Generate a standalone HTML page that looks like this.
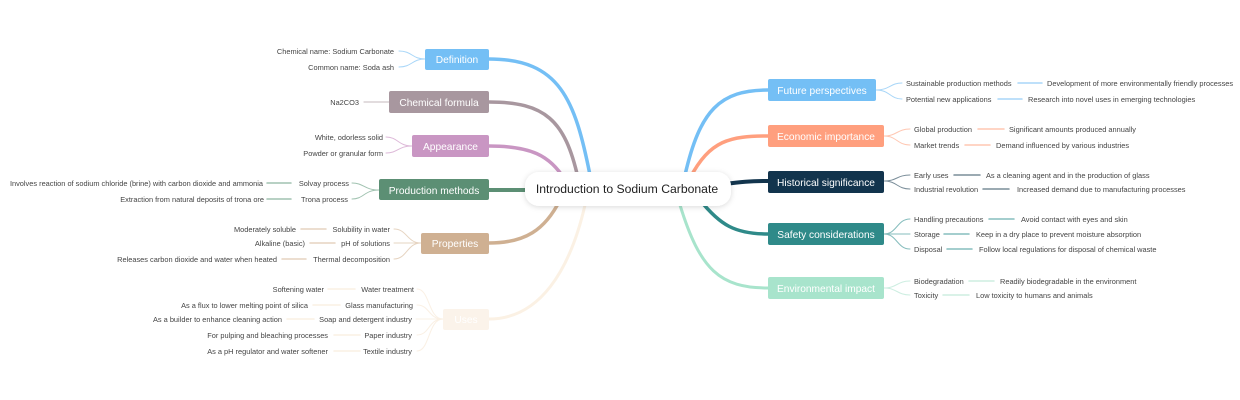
<!DOCTYPE html>
<html><head><meta charset="utf-8"><style>
html,body{margin:0;padding:0;background:#fff;}
svg{display:block;font-family:"Liberation Sans",sans-serif;}
.l{font-size:7.4px;fill:#444;}
.n{font-size:10.2px;fill:#fff;text-anchor:middle;}
</style></head><body>
<svg width="1240" height="400" viewBox="0 0 1240 400" xmlns="http://www.w3.org/2000/svg">
<defs><filter id="sh" x="-20%" y="-50%" width="140%" height="200%"><feDropShadow dx="0" dy="1" stdDeviation="3" flood-color="#000" flood-opacity="0.15"/></filter></defs>
<g fill="none" stroke-linecap="round">
<path d="M590 175 C575 100 560 59 489 59" stroke="#74bff5" stroke-width="3.5"/>
<path d="M578 178 C565 120 545 102 489 102" stroke="#a8979f" stroke-width="3.5"/>
<path d="M565 180 C550 155 530 146 489 146" stroke="#c996c3" stroke-width="3.5"/>
<path d="M530 190 L489 190" stroke="#5c8f74" stroke-width="4"/>
<path d="M560 200 C545 230 525 243 489 243" stroke="#cfb092" stroke-width="3.5"/>
<path d="M585 205 C570 270 540 319 489 319" stroke="#fbf1e4" stroke-width="3"/>
<path d="M685 175 C700 110 720 90 768 90" stroke="#74bff5" stroke-width="3.5"/>
<path d="M690 178 C710 140 730 136 768 136" stroke="#ff9f7e" stroke-width="3.5"/>
<path d="M725 184 C740 182 750 181 768 181" stroke="#12344d" stroke-width="4"/>
<path d="M700 200 C720 225 735 234 768 234" stroke="#2f8a89" stroke-width="3.5"/>
<path d="M680 205 C700 270 720 288 768 288" stroke="#a8e4cc" stroke-width="3"/>
<g stroke="#a8d6f8" stroke-width="1"><path d="M425 59 C412 59 412 51 399 51"/><path d="M425 59 C412 59 412 67 399 67"/></g>
<path d="M389 102 L364 102" stroke="#d0c6cb" stroke-width="1.2"/>
<g stroke="#ddb8d8" stroke-width="1"><path d="M412 146 C398 146 398 137 386 137"/><path d="M412 146 C398 146 398 153 386 153"/></g>
<g stroke="#a0c2b0" stroke-width="1"><path d="M379 190 C364 190 364 183 352 183"/><path d="M379 190 C364 190 364 199 352 199"/><path d="M267 183 L291 183" stroke-width="1.5"/><path d="M267 199 L291 199" stroke-width="1.5"/></g>
<g stroke="#e6d4c1" stroke-width="1"><path d="M421 243 C407 243 407 229 394 229"/><path d="M421 243 L394 243"/><path d="M421 243 C407 243 407 259 394 259"/><path d="M301 229 L326 229" stroke-width="1.5"/><path d="M310 243 L335 243" stroke-width="1.5"/><path d="M282 259 L306 259" stroke-width="1.5"/></g>
<g stroke="#faf0e4" stroke-width="1"><path d="M443 319 C428 319 430 289 417 289"/><path d="M443 319 C428 319 430 305 417 305"/><path d="M443 319 L416 319"/><path d="M443 319 C428 319 430 335 417 335"/><path d="M443 319 C428 319 430 351 417 351"/><path d="M328 289 L355 289" stroke-width="1.5"/><path d="M313 305 L340 305" stroke-width="1.5"/><path d="M287 319 L314 319" stroke-width="1.5"/><path d="M334 335 L360 335" stroke-width="1.5"/><path d="M334 351 L360 351" stroke-width="1.5"/></g>
<g stroke="#a8d6f8" stroke-width="1"><path d="M876 90 C890 90 890 83 902 83"/><path d="M876 90 C890 90 890 99 902 99"/><path d="M1018 83 L1042 83" stroke-width="1.5"/><path d="M998 99 L1022 99" stroke-width="1.5"/></g>
<g stroke="#ffc7b2" stroke-width="1"><path d="M884 136 C897 136 897 129 910 129"/><path d="M884 136 C897 136 897 145 910 145"/><path d="M978 129 L1004 129" stroke-width="1.5"/><path d="M965 145 L990 145" stroke-width="1.5"/></g>
<g stroke="#7a8d99" stroke-width="1"><path d="M884 181 C897 181 897 175 910 175"/><path d="M884 181 C897 181 897 189 910 189"/><path d="M954 175 L980 175" stroke-width="1.5"/><path d="M983 189 L1009 189" stroke-width="1.5"/></g>
<g stroke="#86bdbd" stroke-width="1"><path d="M884 234 C897 234 897 219 910 219"/><path d="M884 234 L910 234"/><path d="M884 234 C897 234 897 249 910 249"/><path d="M989 219 L1014 219" stroke-width="1.5"/><path d="M944 234 L969 234" stroke-width="1.5"/><path d="M947 249 L972 249" stroke-width="1.5"/></g>
<g stroke="#cdeee1" stroke-width="1"><path d="M884 288 C897 288 897 281 910 281"/><path d="M884 288 C897 288 897 295 910 295"/><path d="M969 281 L994 281" stroke-width="1.5"/><path d="M943 295 L969 295" stroke-width="1.5"/></g>
</g>
<rect x="525" y="172" width="206" height="34" rx="14" fill="#fff" filter="url(#sh)"/>
<text x="627" y="193" font-size="12.2" fill="#222" text-anchor="middle">Introduction to Sodium Carbonate</text>
<rect x="425" y="49" width="64" height="21" rx="2" fill="#74bff5"/><text class="n" x="457" y="63">Definition</text>
<rect x="389" y="91" width="100" height="22" rx="2" fill="#a8979f"/><text class="n" x="439" y="106">Chemical formula</text>
<rect x="412" y="135" width="77" height="22" rx="2" fill="#c996c3"/><text class="n" x="450.5" y="150">Appearance</text>
<rect x="379" y="179" width="110" height="21" rx="2" fill="#5c8f74"/><text class="n" x="434" y="194">Production methods</text>
<rect x="421" y="233" width="68" height="21" rx="2" fill="#cfb092"/><text class="n" x="455" y="247">Properties</text>
<rect x="443" y="309" width="46" height="21" rx="2" fill="#fbf3ea"/><text class="n" x="466" y="323">Uses</text>
<rect x="768" y="79" width="108" height="22" rx="2" fill="#74bff5"/><text class="n" x="822" y="94">Future perspectives</text>
<rect x="768" y="125" width="116" height="22" rx="2" fill="#ff9f7e"/><text class="n" x="826" y="140">Economic importance</text>
<rect x="768" y="171" width="116" height="22" rx="2" fill="#12344d"/><text class="n" x="826" y="186">Historical significance</text>
<rect x="768" y="223" width="116" height="22" rx="2" fill="#2f8a89"/><text class="n" x="826" y="238">Safety considerations</text>
<rect x="768" y="277" width="116" height="22" rx="2" fill="#a8e4cc"/><text class="n" x="826" y="292">Environmental impact</text>
<g class="l" text-anchor="end">
<text x="394" y="54">Chemical name: Sodium Carbonate</text>
<text x="394" y="70">Common name: Soda ash</text>
<text x="359" y="105">Na2CO3</text>
<text x="383" y="140">White, odorless solid</text>
<text x="383" y="156">Powder or granular form</text>
<text x="349" y="186">Solvay process</text>
<text x="348" y="202">Trona process</text>
<text x="263" y="186">Involves reaction of sodium chloride (brine) with carbon dioxide and ammonia</text>
<text x="264" y="202">Extraction from natural deposits of trona ore</text>
<text x="390" y="232">Solubility in water</text>
<text x="390" y="246">pH of solutions</text>
<text x="390" y="262">Thermal decomposition</text>
<text x="296" y="232">Moderately soluble</text>
<text x="305" y="246">Alkaline (basic)</text>
<text x="277" y="262">Releases carbon dioxide and water when heated</text>
<text x="414" y="292">Water treatment</text>
<text x="413" y="308">Glass manufacturing</text>
<text x="412" y="322">Soap and detergent industry</text>
<text x="412" y="338">Paper industry</text>
<text x="412" y="354">Textile industry</text>
<text x="324" y="292">Softening water</text>
<text x="308" y="308">As a flux to lower melting point of silica</text>
<text x="282" y="322">As a builder to enhance cleaning action</text>
<text x="328" y="338">For pulping and bleaching processes</text>
<text x="328" y="354">As a pH regulator and water softener</text>
</g>
<g class="l">
<text x="906" y="86">Sustainable production methods</text>
<text x="906" y="102">Potential new applications</text>
<text x="1047" y="86">Development of more environmentally friendly processes</text>
<text x="1028" y="102">Research into novel uses in emerging technologies</text>
<text x="914" y="132">Global production</text>
<text x="914" y="148">Market trends</text>
<text x="1009" y="132">Significant amounts produced annually</text>
<text x="996" y="148">Demand influenced by various industries</text>
<text x="914" y="178">Early uses</text>
<text x="914" y="192">Industrial revolution</text>
<text x="986" y="178">As a cleaning agent and in the production of glass</text>
<text x="1017" y="192">Increased demand due to manufacturing processes</text>
<text x="914" y="222">Handling precautions</text>
<text x="914" y="237">Storage</text>
<text x="914" y="252">Disposal</text>
<text x="1021" y="222">Avoid contact with eyes and skin</text>
<text x="976" y="237">Keep in a dry place to prevent moisture absorption</text>
<text x="979" y="252">Follow local regulations for disposal of chemical waste</text>
<text x="914" y="284">Biodegradation</text>
<text x="914" y="298">Toxicity</text>
<text x="1000" y="284">Readily biodegradable in the environment</text>
<text x="976" y="298">Low toxicity to humans and animals</text>
</g>
</svg>
</body></html>
